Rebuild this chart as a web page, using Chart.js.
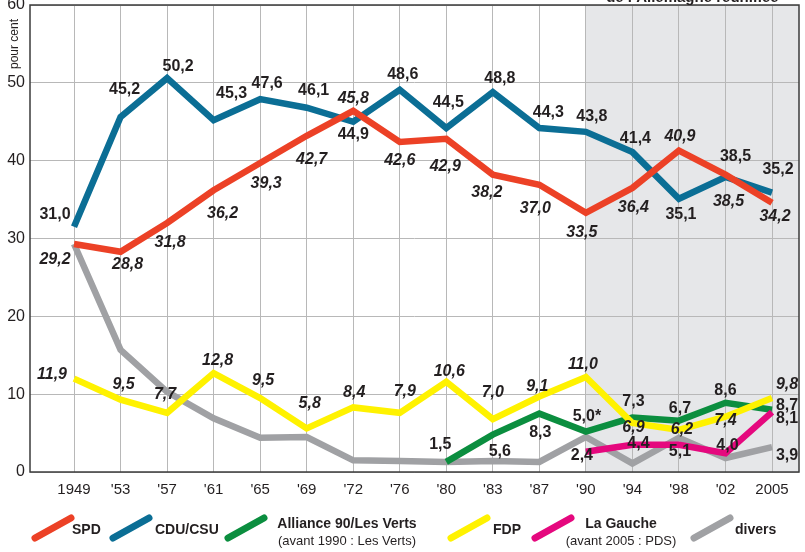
<!DOCTYPE html>
<html>
<head>
<meta charset="utf-8">
<script src="https://cdn.jsdelivr.net/npm/chart.js@4.4.1/dist/chart.umd.min.js"></script>
<style>
  body { margin: 0; background: #fff; }
  canvas { display: block; }
</style>
</head>
<body>
<canvas id="grafico-elections" width="805" height="552"></canvas>
<script>
'use strict';

// Années des élections (axe X)
const annees = ["1949", "'53", "'57", "'61", "'65", "'69", "'72", "'76", "'80", "'83", "'87", "'90", "'94", "'98", "'02", "2005"];

// Positions des courbes telles que tracées (en %)
const spd    = [29.3, 28.3, 32.0, 36.2, 39.7, 43.2, 46.4, 42.4, 42.8, 38.2, 36.9, 33.3, 36.5, 41.3, 38.2, 34.6];
const cduCsu = [31.5, 45.6, 50.6, 45.2, 47.9, 46.8, 45.0, 49.1, 44.2, 48.8, 44.2, 43.7, 41.1, 35.1, 37.9, 35.9];
const verts  = [null, null, null, null, null, null, null, null, 1.3, 4.8, 7.5, 5.2, 7.0, 6.6, 8.9, 8.0];
const fdp    = [12.0, 9.3, 7.6, 12.7, 9.5, 5.6, 8.3, 7.6, 11.6, 6.8, 9.7, 12.2, 6.3, 5.4, 7.1, 9.5];
const gauche = [null, null, null, null, null, null, null, null, null, null, null, 2.6, 3.5, 3.5, 2.4, 7.7];
const divers = [29.3, 15.7, 10.3, 6.9, 4.4, 4.5, 1.5, 1.4, 1.3, 1.4, 1.3, 4.5, 1.1, 4.4, 1.8, 3.2];

// Valeurs affichées sur le graphique
const etiquettesSpd    = ["29,2", "28,8", "31,8", "36,2", "39,3", "42,7", "45,8", "42,6", "42,9", "38,2", "37,0", "33,5", "36,4", "40,9", "38,5", "34,2"];
const etiquettesCdu    = ["31,0", "45,2", "50,2", "45,3", "47,6", "46,1", "44,9", "48,6", "44,5", "48,8", "44,3", "43,8", "41,4", "35,1", "38,5", "35,2"];
const etiquettesVerts  = [null, null, null, null, null, null, null, null, "1,5", "5,6", "8,3", "5,0*", "7,3", "6,7", "8,6", "8,1"];
const etiquettesFdp    = ["11,9", "9,5", "7,7", "12,8", "9,5", "5,8", "8,4", "7,9", "10,6", "7,0", "9,1", "11,0", "6,9", "6,2", "7,4", "9,8"];
const etiquettesGauche = [null, null, null, null, null, null, null, null, null, null, null, "2,4", "4,4", "5,1", "4,0", "8,7"];
const etiquettesDivers = [null, null, null, null, null, null, null, null, null, null, null, null, null, null, null, "3,9"];

// Décalage des étiquettes par rapport au point (px)
const decalageSpd = [[-19, 16], [7, 13], [3, 20], [9, 23], [6, 21], [5, 24], [0, -12], [0, 19], [-1, 28], [-6, 18], [-4, 24], [-4, 20], [1, 20], [1, -14], [3, 27], [3, 14]];
const decalageCdu = [[-19, -12], [4, -27], [11, -12], [18, -27], [7, -16], [7, -17], [0, 13], [3, -15], [2, -25], [7, -14], [9, -15], [6, -15], [3, -14], [2, 16], [10, -20], [6, -23]];
const decalageVerts = [null, null, null, null, null, null, null, null, [-6, -17], [7, 17], [1, 19], [1, -15], [1, -16], [1, -12], [0, -12], [15, 9]];
const decalageFdp = [[-22, -4], [3, -15], [-2, -18], [4, -13], [3, -17], [3, -25], [1, -15], [5, -21], [3, -10], [0, -26], [-2, -10], [-3, -12], [1, 5], [3, 0], [0, 4], [15, -13]];
const decalageGauche = [null, null, null, null, null, null, null, null, null, null, null, [-4, 4], [6, -1], [1, 7], [2, -8], [15, -6]];
const decalageDivers = [null, null, null, null, null, null, null, null, null, null, null, null, null, null, null, [15, 9]];

const couleurTexte = '#231f20';

/**
 * Convertit une série en points {x, y} pour l'axe linéaire.
 */
function versPoints(serie) {
    return serie.map((v, i) => ({ x: i, y: v }));
}

function serie(label, data, couleur, ordre, etiquettes, decalages, italique) {
    return {
        label: label,
        data: versPoints(data),
        borderColor: couleur,
        backgroundColor: couleur,
        borderWidth: 6.5,
        pointRadius: 0,
        borderCapStyle: 'butt',
        borderJoinStyle: 'miter',
        tension: 0,
        spanGaps: false,
        order: ordre,
        etiquettes: etiquettes,
        decalages: decalages,
        italique: italique
    };
}

// Zone grise : Allemagne réunifiée + cadre
const pluginFond = {
    id: 'fond',
    beforeDraw(chart) {
        const { ctx, chartArea: a, scales: { x } } = chart;
        const x0 = x.getPixelForValue(11);
        ctx.save();
        ctx.fillStyle = '#e6e7e9';
        ctx.fillRect(x0, a.top, a.right - x0, a.bottom - a.top);
        ctx.restore();
    },
    beforeDatasetsDraw(chart) {
        const { ctx, chartArea: a } = chart;
        ctx.save();
        ctx.strokeStyle = '#3b3b3b';
        ctx.lineWidth = 1.5;
        ctx.strokeRect(a.left, a.top, a.right - a.left, a.bottom - a.top);
        ctx.restore();
    }
};

// Étiquettes de valeurs, légende et textes
const pluginTextes = {
    id: 'textes',
    afterDatasetsDraw(chart) {
        const ctx = chart.ctx;
        ctx.save();
        ctx.textAlign = 'center';
        ctx.textBaseline = 'middle';
        ctx.fillStyle = couleurTexte;
        chart.data.datasets.forEach((ds, d) => {
            const meta = chart.getDatasetMeta(d);
            ctx.font = (ds.italique ? 'italic ' : '') + 'bold 16px "Liberation Sans", Arial, sans-serif';
            ds.etiquettes.forEach((txt, i) => {
                if (!txt) return;
                const p = meta.data[i];
                const o = ds.decalages[i];
                ctx.fillText(txt, p.x + o[0], p.y + o[1]);
            });
        });
        ctx.restore();
    },
    afterDraw(chart) {
        const { ctx, chartArea: a, scales: { x } } = chart;
        ctx.save();
        ctx.fillStyle = couleurTexte;

        // titre coupé au-dessus de la zone grise
        ctx.font = 'bold 15px "Liberation Sans", Arial, sans-serif';
        ctx.textAlign = 'center';
        ctx.textBaseline = 'alphabetic';
        ctx.fillText('de l\u2019Allemagne réunifiée', (x.getPixelForValue(11) + a.right) / 2, 1.5);

        // unité de l'axe Y
        ctx.save();
        ctx.translate(15, 44);
        ctx.rotate(-Math.PI / 2);
        ctx.font = '12px "Liberation Sans", Arial, sans-serif';
        ctx.textBaseline = 'middle';
        ctx.fillText('pour cent', 0, 0);
        ctx.restore();

        // légende
        const items = [
            { couleur: '#ec4126', x: 35, texte: 'SPD', tx: 72 },
            { couleur: '#0b6e95', x: 113, texte: 'CDU/CSU', tx: 155 },
            { couleur: '#0b8e3f', x: 228, texte: 'Alliance 90/Les Verts', sous: '(avant 1990 : Les Verts)', tx: 347 },
            { couleur: '#fff200', x: 451, texte: 'FDP', tx: 493 },
            { couleur: '#e5087e', x: 535, texte: 'La Gauche', sous: '(avant 2005 : PDS)', tx: 621 },
            { couleur: '#a0a1a4', x: 694, texte: 'divers', tx: 735 }
        ];
        items.forEach(it => {
            ctx.strokeStyle = it.couleur;
            ctx.lineWidth = 7;
            ctx.lineCap = 'round';
            ctx.beginPath();
            ctx.moveTo(it.x, 538);
            ctx.lineTo(it.x + 36, 518);
            ctx.stroke();
            ctx.font = 'bold 14px "Liberation Sans", Arial, sans-serif';
            ctx.textBaseline = 'middle';
            if (it.sous) {
                ctx.textAlign = 'center';
                ctx.fillText(it.texte, it.tx, 524);
                ctx.font = '13px "Liberation Sans", Arial, sans-serif';
                ctx.fillText(it.sous, it.tx, 541);
            } else {
                ctx.textAlign = 'left';
                ctx.fillText(it.texte, it.tx, 530);
            }
        });
        ctx.restore();
    }
};

const ctx = document.getElementById('grafico-elections').getContext('2d');

new Chart(ctx, {
    type: 'line',
    data: {
        datasets: [
            serie('SPD', spd, '#ec4126', 3, etiquettesSpd, decalageSpd, true),
            serie('CDU/CSU', cduCsu, '#0b6e95', 4, etiquettesCdu, decalageCdu, false),
            serie('Alliance 90/Les Verts', verts, '#0b8e3f', 2, etiquettesVerts, decalageVerts, false),
            serie('FDP', fdp, '#fff200', 0, etiquettesFdp, decalageFdp, true),
            serie('La Gauche', gauche, '#e5087e', 1, etiquettesGauche, decalageGauche, false),
            serie('divers', divers, '#a0a1a4', 5, etiquettesDivers, decalageDivers, false)
        ]
    },
    options: {
        responsive: false,
        animation: false,
        devicePixelRatio: 1,
        layout: { padding: { top: 5, right: 6, bottom: 50, left: 0 } },
        plugins: {
            legend: { display: false },
            tooltip: { enabled: false }
        },
        scales: {
            x: {
                type: 'linear',
                min: -0.946,
                max: 15.58,
                afterBuildTicks: s => { s.ticks = annees.map((_, i) => ({ value: i })); },
                afterFit: s => {
                    s.height = 30;
                    s.paddingLeft = 0;
                    s.paddingRight = 0;
                },
                border: { display: false },
                grid: { color: '#b8b8b8', lineWidth: 1, drawTicks: false },
                ticks: {
                    autoSkip: false,
                    maxRotation: 0,
                    padding: 9,
                    color: couleurTexte,
                    font: { family: '"Liberation Sans", Arial, sans-serif', size: 15 },
                    callback: v => annees[v]
                }
            },
            y: {
                min: 0,
                max: 60,
                afterFit: s => {
                    s.width = 30;
                    s.paddingTop = 0;
                    s.paddingBottom = 0;
                },
                border: { display: false },
                grid: { color: '#b8b8b8', lineWidth: 1, drawTicks: false },
                ticks: {
                    stepSize: 10,
                    padding: 5,
                    color: couleurTexte,
                    font: { family: '"Liberation Sans", Arial, sans-serif', size: 16 }
                }
            }
        }
    },
    plugins: [pluginFond, pluginTextes]
});
</script>
</body>
</html>
